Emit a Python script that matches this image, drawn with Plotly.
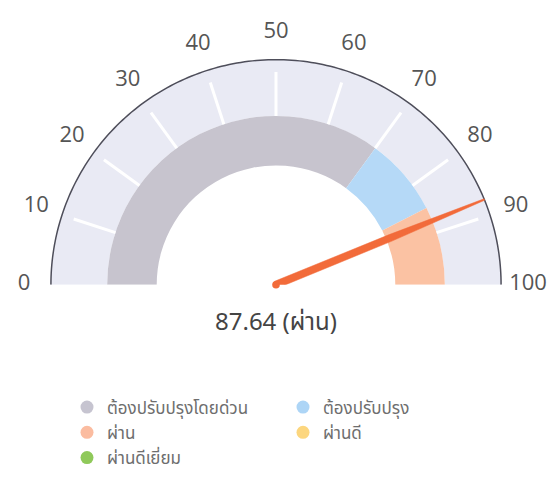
import math
import plotly.graph_objects as go

# ---- data ----
score = 87.64
score_status = "ผ่าน"
tick_values = [0, 10, 20, 30, 40, 50, 60, 70, 80, 90, 100]
tick_labels = ["0", "10", "20", "30", "40", "50", "60", "70", "80", "90", "100"]
band_names = ["ต้องปรับปรุงโดยด่วน", "ต้องปรับปรุง", "ผ่าน", "ผ่านดี", "ผ่านดีเยี่ยม"]
band_starts = [0, 70, 85, 100, 100]
band_ends = [70, 85, 100, 100, 100]
band_colors = ["#C7C4CE", "#B5D9F7", "#FBC2A3", "#FBD57C", "#8DC95B"]
legend_colors = ["#C6C4D0", "#ADD5F6", "#FBBCA0", "#FCD67E", "#8FC95A"]
legend_rows = ["legend", "legend", "legend2", "legend2", "legend3"]
gauge_min, gauge_max = 0, 100

# ---- styling / geometry (page has an 8px body margin on every side) ----
DEG = 180.0 / (gauge_max - gauge_min)
R_OUT, R_MID, R_IN = 1.0, 0.75, 0.53
R_LAB, R_MAX = 1.12, 1.125
OFF = 8
W, H = 556 - 2 * OFF, 484 - 2 * OFF
CX, CY, RPX = 276 - OFF, 292 - OFF, 231
DOM = RPX * R_MAX
THAI = "Noto Sans Thai, Noto Sans Thai Looped, Noto Sans, Open Sans, sans-serif"
NUMF = "Open Sans, Noto Sans, sans-serif"


def px(xp):
    return (xp - OFF) / W


def py(yp):
    return (H - (yp - OFF)) / H


fig = go.Figure()

# light outer band
fig.add_trace(go.Barpolar(
    r=[R_OUT - R_MID], base=[R_MID], theta=[(gauge_min + gauge_max) / 2 * DEG],
    width=[(gauge_max - gauge_min) * DEG],
    marker=dict(color="#E9EAF4", line=dict(width=0)),
    showlegend=False, hoverinfo="skip"))

# coloured inner bands
for name, s, e, c in zip(band_names, band_starts, band_ends, band_colors):
    if e <= s:
        continue
    fig.add_trace(go.Barpolar(
        r=[R_MID - R_IN], base=[R_IN], theta=[(s + e) / 2 * DEG], width=[(e - s) * DEG],
        marker=dict(color=c, line=dict(width=0)),
        showlegend=False, hoverinfo="skip", name=name))

# white tick marks
tr, tt = [], []
for v in tick_values[1:-1]:
    tr += [R_MID, 0.945, None]
    tt += [v * DEG, v * DEG, None]
fig.add_trace(go.Scatterpolar(
    r=tr, theta=tt, mode="lines", line=dict(color="white", width=3),
    showlegend=False, hoverinfo="skip"))

# outer arc line
arc_vals = [gauge_min + (gauge_max - gauge_min) * i / 180 for i in range(181)]
fig.add_trace(go.Scatterpolar(
    r=[R_OUT] * len(arc_vals), theta=[v * DEG for v in arc_vals], mode="lines",
    line=dict(color="#4E4E5A", width=1.5), cliponaxis=False,
    showlegend=False, hoverinfo="skip"))

# tick labels
fig.add_trace(go.Scatterpolar(
    r=[R_LAB] * len(tick_values), theta=[v * DEG for v in tick_values],
    mode="text", text=tick_labels, textposition="middle center", cliponaxis=False,
    textfont=dict(size=22, color="#555555", family=NUMF),
    showlegend=False, hoverinfo="skip"))

# needle (tapered polygon around the score direction)
nt = score * DEG
profile = [(0.0, 3.8), (0.55, 3.6), (R_OUT, 0.8)]  # (radius, half-width px)
side_a, side_b = [], []
for rr, hw in profile:
    h = hw / RPX
    if rr == 0:
        side_a.append((h, nt - 90)); side_b.append((h, nt + 90))
    else:
        d = math.degrees(math.atan2(h, rr))
        side_a.append((math.hypot(rr, h), nt - d)); side_b.append((math.hypot(rr, h), nt + d))
poly = side_a + side_b[::-1] + [side_a[0]]
fig.add_trace(go.Scatterpolar(
    r=[p[0] for p in poly], theta=[p[1] for p in poly],
    mode="lines", fill="toself", fillcolor="#F26B3A",
    line=dict(color="#F26B3A", width=0.5), cliponaxis=False,
    showlegend=False, hoverinfo="skip"))
fig.add_trace(go.Scatterpolar(
    r=[0], theta=[nt], mode="markers", cliponaxis=False,
    marker=dict(color="#F26B3A", size=7.6),
    showlegend=False, hoverinfo="skip"))

# legend entries
for name, c, lg in zip(band_names, legend_colors, legend_rows):
    fig.add_trace(go.Scatterpolar(
        r=[None], theta=[None], mode="markers", name=name, legend=lg,
        marker=dict(color=c, size=13)))

leg_common = dict(orientation="h", xanchor="left", yanchor="middle",
                  entrywidth=171, itemwidth=30, bgcolor="rgba(0,0,0,0)",
                  font=dict(size=17, color="#6E6E6E", family=THAI))
LX = px(87 - 20)

fig.update_layout(
    width=W, height=H,
    margin=dict(l=0, r=0, t=0, b=0),
    paper_bgcolor="white", plot_bgcolor="white",
    font=dict(family=THAI, color="#555555"),
    polar=dict(
        domain=dict(x=[(CX - DOM) / W, (CX + DOM) / W],
                    y=[(H - CY) / H, (H - CY + DOM) / H]),
        sector=[0, 180], hole=0, bgcolor="rgba(0,0,0,0)",
        radialaxis=dict(visible=False, range=[0, R_MAX]),
        angularaxis=dict(rotation=180, direction="clockwise", visible=False),
    ),
    legend=dict(x=LX, y=py(418), **leg_common),
    legend2=dict(x=LX, y=py(444), **leg_common),
    legend3=dict(x=LX, y=py(470), **leg_common),
    annotations=[dict(
        text=f"{score:.2f} ({score_status})", x=px(276), y=py(331),
        xref="paper", yref="paper", xanchor="center", yanchor="middle", showarrow=False,
        font=dict(size=24, color="#444444", family=THAI))],
)

fig.write_html("out.html")
